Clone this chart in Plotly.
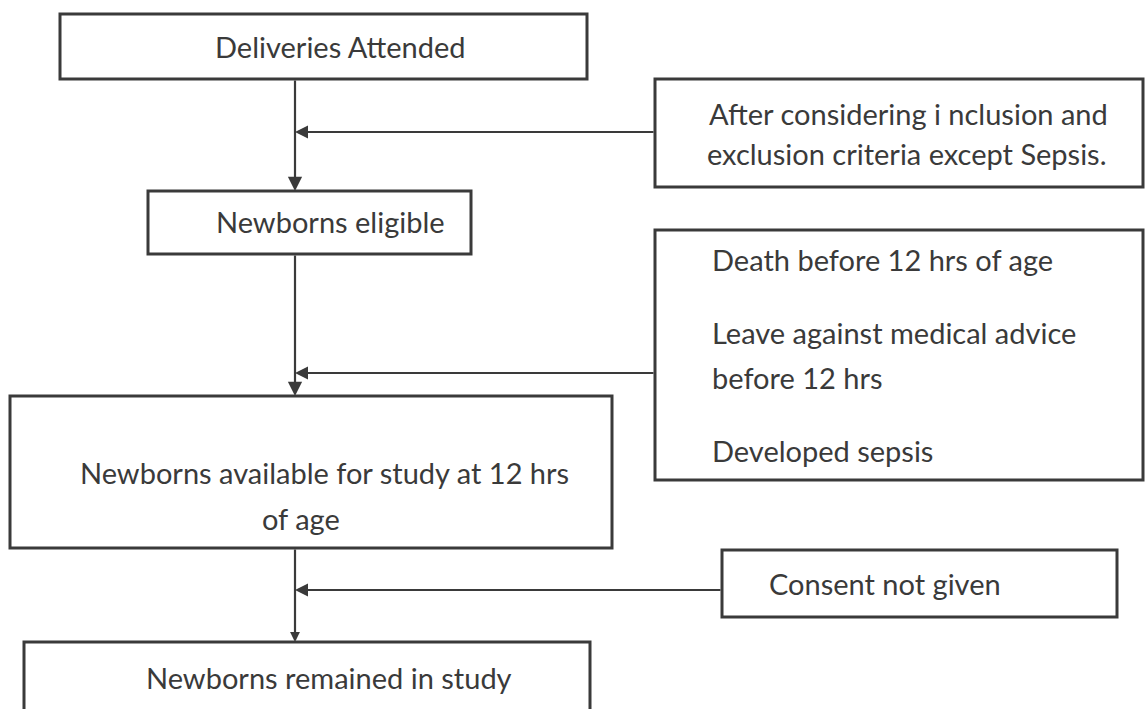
import plotly.graph_objects as go

# ---- content ----
main_labels = [
    ["Deliveries Attended"],
    ["Newborns eligible"],
    ["Newborns available for study at 12 hrs", "of age"],
    ["Newborns remained in study"],
]
side_labels = [
    ["After considering i nclusion and", "exclusion criteria except Sepsis."],
    ["Death before 12 hrs of age", "Leave against medical advice", "before 12 hrs", "Developed sepsis"],
    ["Consent not given"],
]

# ---- layout geometry (pixels, y downward) ----
W, H = 1145, 709
main_boxes = [(60, 14, 587, 79), (148, 191, 471, 254), (10, 396, 612, 548), (24, 642, 590, 730)]
main_text_pos = [[(340, 46)], [(330, 221)], [(324, 472), (301, 518)], [(329, 677)]]
side_boxes = [(655, 79, 1143, 187), (655, 230, 1143, 480), (722, 550, 1117, 617)]
side_text_pos = [
    [(707, 113), (705, 153)],
    [(710, 259), (710, 332), (710, 377), (710, 450)],
    [(767, 583)],
]
spine_x = 295
arrow_y = [132, 373, 590]

LINE = "#3a3a3a"
TXT = "#3a3a3a"
FONT = "Lato"
FS = 29

fig = go.Figure()
shapes = []
for (x0, y0, x1, y1) in main_boxes + side_boxes:
    shapes.append(dict(type="rect", x0=x0, y0=y0, x1=x1, y1=y1, xref="x", yref="y",
                       line=dict(color=LINE, width=3), fillcolor="white", layer="below"))

annotations = []
# vertical connectors with arrowheads
for i in range(3):
    top = main_boxes[i][3]
    bot = main_boxes[i + 1][1]
    annotations.append(dict(x=spine_x, y=bot, ax=spine_x, ay=top, xref="x", yref="y",
                            axref="x", ayref="y", showarrow=True, arrowhead=2,
                            arrowsize=1.3 if i < 2 else 0.9, arrowwidth=2.2,
                            arrowcolor=LINE, text="", standoff=0))
# horizontal arrows from side boxes
for j in range(3):
    x0 = side_boxes[j][0]
    annotations.append(dict(x=spine_x, y=arrow_y[j], ax=x0, ay=arrow_y[j], xref="x", yref="y",
                            axref="x", ayref="y", showarrow=True, arrowhead=2, arrowsize=1.3,
                            arrowwidth=2.0, arrowcolor=LINE, text="", standoff=0))

for labs, poss in zip(main_labels, main_text_pos):
    for lab, (tx, ty) in zip(labs, poss):
        annotations.append(dict(x=tx, y=ty, xref="x", yref="y", text=lab, showarrow=False,
                                xanchor="center", yanchor="middle", align="center",
                                font=dict(family=FONT, size=FS, color=TXT)))

for labs, poss in zip(side_labels, side_text_pos):
    for lab, (tx, ty) in zip(labs, poss):
        annotations.append(dict(x=tx, y=ty, xref="x", yref="y", text=lab, showarrow=False,
                                xanchor="left", yanchor="middle",
                                font=dict(family=FONT, size=FS, color=TXT)))

fig.update_layout(
    width=W, height=H,
    margin=dict(l=0, r=0, t=0, b=0),
    paper_bgcolor="white", plot_bgcolor="white",
    xaxis=dict(range=[0, W], visible=False, fixedrange=True),
    yaxis=dict(range=[H, 0], visible=False, fixedrange=True),
    shapes=shapes, annotations=annotations, showlegend=False,
)
fig.write_html("out.html", config={"displayModeBar": False},
               post_script="document.body.style.margin='0';document.body.style.overflow='hidden';")
